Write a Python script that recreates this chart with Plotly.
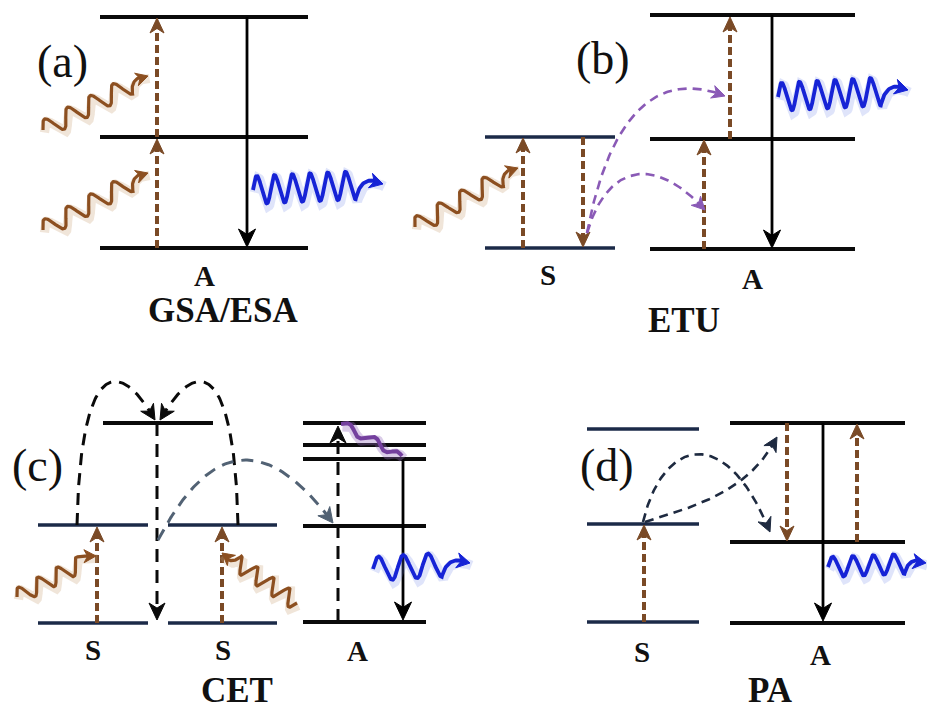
import numpy as np
import plotly.graph_objects as go

# ---------------- data (canvas units, y grows downward) ----------------
# Energy levels
lvl_x0 = [100, 100, 100, 485, 485, 650, 650, 650, 38, 38, 168, 168, 103, 303, 303, 303, 303, 303, 587, 587, 587, 730, 730, 730]
lvl_x1 = [308, 308, 308, 615, 615, 855, 855, 855, 148, 148, 277, 277, 213, 426, 426, 426, 426, 426, 699, 699, 699, 905, 905, 905]
lvl_y  = [17, 137, 248, 137, 248, 15, 139, 249, 525, 623, 525, 623, 423, 423, 445, 459, 526, 622, 429, 524, 622, 423, 542, 623]
lvl_kind = ["A", "A", "A", "S", "S", "A", "A", "A", "S", "S", "S", "S", "A", "A", "A", "A", "A", "A", "S", "S", "S", "A", "A", "A"]

# Straight transitions: start -> tip
arr_x0 = [157, 157, 247, 523, 583, 704, 730, 772, 157, 97, 222, 338, 403, 644, 787, 857, 823]
arr_y0 = [248, 137, 17, 248, 137, 249, 139, 15, 423, 623, 623, 622, 459, 622, 423, 542, 423]
arr_x1 = [157, 157, 247, 523, 583, 704, 730, 772, 157, 97, 222, 338, 403, 644, 787, 857, 823]
arr_y1 = [139, 18, 247, 138, 247, 140, 17, 248, 620, 527, 527, 426, 620, 525, 541, 424, 621]
arr_kind = ["pump", "pump", "solid", "pump", "pump", "pump", "pump", "solid", "dash", "pump", "pump", "dash", "solid", "pump", "pump", "pump", "solid"]

# Energy-transfer curves (cubic Bezier control points)
crv_pts = [
    [(587, 233), (610, 110), (660, 70), (725, 96)],
    [(587, 233), (605, 170), (650, 150), (705, 210)],
    [(77, 525), (80, 370), (115, 350), (155, 420)],
    [(238, 525), (235, 370), (200, 350), (160, 420)],
    [(158, 540), (195, 470), (250, 410), (333, 523)],
    [(643, 522), (662, 440), (725, 420), (770, 532)],
    [(645, 522), (700, 505), (750, 490), (777, 437)],
]
crv_kind = ["etu", "etu", "cet", "cet", "cet2", "pa", "pa"]

# Photons (wavy arrows): start, tip, amplitude, cycles, tail length
wav_start = [(43, 130), (43, 230), (253, 190), (415, 227), (778, 97), (17, 597), (297, 603), (373, 569), (341, 424), (828, 567)]
wav_tip   = [(148, 76), (148, 173), (383, 184), (518, 168), (908, 90), (96, 556), (222, 553), (470, 563), (402, 456), (926, 563)]
wav_amp   = [9, 9, 14, 9, 14, 8, 8, 12, 4, 10]
wav_cyc   = [3.75, 3.75, 5.75, 3.75, 5.75, 3.25, 3.75, 2.75, 2.0, 3.75]
wav_tail  = [22, 22, 28, 22, 28, 18, 18, 29, 10, 22]
wav_kind  = ["ir", "ir", "vis", "ir", "vis", "ir", "ir", "vis", "nr", "vis"]

# Labels
lab_text = ["(a)", "(b)", "(c)", "(d)",
            "A", "GSA/ESA", "S", "A", "ETU",
            "S", "S", "A", "CET", "S", "A", "PA"]
lab_x = [62, 603, 37, 607, 204, 223, 548, 752, 684, 93, 223, 357, 237, 642, 820, 770]
lab_y = [61, 58, 465, 465, 276, 310, 275, 279, 320, 650, 650, 651, 690, 652, 655, 690]
lab_kind = ["panel"] * 4 + ["spec", "proc", "spec", "spec", "proc", "spec", "spec", "spec", "proc", "spec", "spec", "proc"]

# ---------------- styles ----------------
LEVEL_COLOR = {"A": "#0a0a0a", "S": "#1b2a48"}
LEVEL_W = {"A": 4, "S": 3.5}
ARR_STYLE = {
    "pump": dict(color="#7a4a26", width=4, dash="8px,4px", hl=15, hw=7),
    "solid": dict(color="#000000", width=2.8, dash="solid", hl=18, hw=8.5),
    "dash": dict(color="#0a0a0a", width=3, dash="13px,8px", hl=17, hw=8),
}
CRV_STYLE = {
    "etu": dict(color="#8a5ab6", width=2.6, dash="9px,6px", hl=13, hw=6.5),
    "cet": dict(color="#0a0a0a", width=3, dash="12px,8px", hl=15, hw=7.5),
    "cet2": dict(color="#526274", width=3, dash="12px,8px", hl=15, hw=7.5),
    "pa": dict(color="#1e2a40", width=2.6, dash="9px,6px", hl=14, hw=7),
}
WAV_STYLE = {
    "ir": dict(color="#8c4f20", glow="rgba(200,160,120,0.28)", width=3.2, hl=12, hw=6.5),
    "vis": dict(color="#1623d6", glow="rgba(110,130,230,0.22)", width=3.8, hl=13, hw=7.5),
    "nr": dict(color="#74409e", glow="rgba(150,110,190,0.35)", width=4, hl=0, hw=0),
}
FONT = "Liberation Serif"

fig = go.Figure()
annotations = []


def line(xs, ys, color, width, dash="solid"):
    fig.add_trace(go.Scatter(x=list(xs), y=list(ys), mode="lines", hoverinfo="skip",
                             line=dict(color=color, width=width, dash=dash)))


def head(tip, frm, L, W, color, notch=0.3):
    tx, ty = tip
    dx, dy = tx - frm[0], ty - frm[1]
    n = np.hypot(dx, dy)
    ux, uy = dx / n, dy / n
    px, py = -uy, ux
    bx, by = tx - ux * L, ty - uy * L
    xs = [tx, bx + px * W, tx - ux * L * (1 - notch), bx - px * W, tx]
    ys = [ty, by + py * W, ty - uy * L * (1 - notch), by - py * W, ty]
    fig.add_trace(go.Scatter(x=xs, y=ys, mode="lines", fill="toself", fillcolor=color,
                             hoverinfo="skip", line=dict(color=color, width=1)))


# levels
for x0, x1, y, k in zip(lvl_x0, lvl_x1, lvl_y, lvl_kind):
    line([x0, x1], [y, y], LEVEL_COLOR[k], LEVEL_W[k])

# straight arrows
for x0, y0, x1, y1, k in zip(arr_x0, arr_y0, arr_x1, arr_y1, arr_kind):
    st = ARR_STYLE[k]
    L = np.hypot(x1 - x0, y1 - y0)
    ux, uy = (x1 - x0) / L, (y1 - y0) / L
    back = st["hl"] * 0.6
    line([x0, x1 - ux * back], [y0, y1 - uy * back], st["color"], st["width"], st["dash"])
    head((x1, y1), (x0, y0), st["hl"], st["hw"], st["color"])


def bezier(p, n=120):
    t = np.linspace(0, 1, n)[:, None]
    p = np.array(p, dtype=float)
    return ((1 - t) ** 3) * p[0] + 3 * ((1 - t) ** 2) * t * p[1] + 3 * (1 - t) * t ** 2 * p[2] + t ** 3 * p[3]


# curves
for pts, k in zip(crv_pts, crv_kind):
    st = CRV_STYLE[k]
    b = bezier(pts)
    tip = b[-1]
    d = np.hypot(b[:, 0] - tip[0], b[:, 1] - tip[1])
    keep = d > st["hl"] * 0.6
    line(b[keep, 0], b[keep, 1], st["color"], st["width"], st["dash"])
    j = np.where(d > st["hl"])[0][-1]
    head(tip, b[j], st["hl"], st["hw"], st["color"])


def wave(p0, p1, amp, cyc, tail):
    x0, y0 = p0
    x1, y1 = p1
    L = np.hypot(x1 - x0, y1 - y0)
    ux, uy = (x1 - x0) / L, (y1 - y0) / L
    nx, ny = uy, -ux
    Lw = L - tail
    s = np.linspace(0, Lw, 300)
    off = amp * np.sin(2 * np.pi * cyc * s / Lw)
    xs = x0 + ux * s + nx * off
    ys = y0 + uy * s + ny * off
    ex, ey = xs[-1], ys[-1]
    cx = x0 + ux * (Lw + tail * 0.25) + nx * amp * 0.9
    cy = y0 + uy * (Lw + tail * 0.25) + ny * amp * 0.9
    t = np.linspace(0, 1, 40)[1:]
    bx = (1 - t) ** 2 * ex + 2 * (1 - t) * t * cx + t ** 2 * x1
    by = (1 - t) ** 2 * ey + 2 * (1 - t) * t * cy + t ** 2 * y1
    return np.concatenate([xs, bx]), np.concatenate([ys, by])


for p0, p1, a, c, tl, k in zip(wav_start, wav_tip, wav_amp, wav_cyc, wav_tail, wav_kind):
    st = WAV_STYLE[k]
    xs, ys = wave(p0, p1, a, c, tl)
    line(xs + 1.5, ys + 2.5, st["glow"], st["width"] + 6)
    tipx, tipy = xs[-1], ys[-1]
    d = np.hypot(xs - tipx, ys - tipy)
    if st["hl"] > 0:
        keep = d > st["hl"] * 0.6
        line(xs[keep], ys[keep], st["color"], st["width"])
        j = np.where(d > st["hl"])[0][-1]
        head((tipx, tipy), (xs[j], ys[j]), st["hl"], st["hw"], st["color"])
    else:
        line(xs, ys, st["color"], st["width"])

# labels
for t, x, y, k in zip(lab_text, lab_x, lab_y, lab_kind):
    if k == "panel":
        f = dict(family=FONT, size=46, color="#111")
    elif k == "spec":
        f = dict(family=FONT, size=29, color="#111", weight="bold")
    else:
        f = dict(family=FONT, size=35, color="#111", weight="bold")
    annotations.append(dict(x=x, y=y, xref="x", yref="y", text=t, showarrow=False,
                            font=f, xanchor="center", yanchor="middle"))

fig.update_layout(
    width=927, height=711,
    margin=dict(l=0, r=0, t=0, b=0),
    paper_bgcolor="white", plot_bgcolor="white",
    showlegend=False,
    xaxis=dict(range=[0, 927], visible=False, fixedrange=True),
    yaxis=dict(range=[711, 0], visible=False, fixedrange=True),
    annotations=annotations,
)

fig.write_html("out.html", config={"displayModeBar": False},
               post_script="document.body.style.margin='0';document.body.style.overflow='hidden';")
